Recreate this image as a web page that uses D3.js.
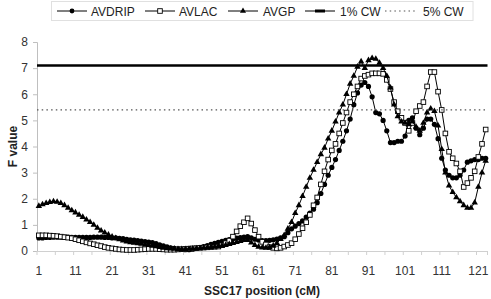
<!DOCTYPE html>
<html>
<head>
<meta charset="utf-8">
<script src="https://cdn.jsdelivr.net/npm/d3@7"></script>
<style>
  body { margin: 0; background: #fff; }
  svg { display: block; font-family: "Liberation Sans", Arial, sans-serif; }
</style>
</head>
<body>
<svg width="491" height="299"></svg>
<script>
// позиции на SSC17 (cM)
const positions = [
  1,2,3,4,5,6,7,8,9,10,11,12,13,14,15,16,17,18,19,20,
  21,22,23,24,25,26,27,28,29,30,31,32,33,34,35,36,37,38,39,40,
  41,42,43,44,45,46,47,48,49,50,51,52,53,54,55,56,57,58,59,60,
  61,62,63,64,65,66,67,68,69,70,71,72,73,74,75,76,77,78,79,80,
  81,82,83,84,85,86,87,88,89,90,91,92,93,94,95,96,97,98,99,100,
  101,102,103,104,105,106,107,108,109,110,111,112,113,114,115,116,117,118,119,120,
  121,122,123
];

const avdrip = [
  0.50,0.50,0.52,0.52,0.53,0.53,0.53,0.53,0.53,0.52,
  0.52,0.52,0.52,0.52,0.52,0.53,0.53,0.53,0.52,0.52,
  0.50,0.50,0.48,0.47,0.45,0.43,0.42,0.40,0.38,0.36,
  0.34,0.32,0.28,0.24,0.20,0.16,0.12,0.10,0.08,0.06,
  0.05,0.05,0.07,0.10,0.13,0.17,0.21,0.25,0.29,0.33,
  0.37,0.41,0.44,0.47,0.49,0.51,0.53,0.55,0.50,0.45,
  0.42,0.40,0.40,0.41,0.43,0.46,0.50,0.55,0.70,0.85,
  0.95,1.05,1.15,1.30,1.45,1.60,1.85,2.20,2.55,2.90,
  3.20,3.50,3.85,4.20,4.60,5.05,5.60,6.05,6.35,6.45,
  6.30,5.90,5.30,5.25,5.00,4.60,4.15,4.15,4.20,4.20,
  4.40,5.00,5.10,4.70,4.45,4.70,5.05,5.05,4.85,4.30,
  3.55,3.10,2.90,2.80,2.80,2.90,3.10,3.40,3.45,3.50,
  3.50,3.55,3.55
];

const avlac = [
  0.60,0.60,0.60,0.59,0.58,0.57,0.55,0.53,0.51,0.49,
  0.45,0.41,0.37,0.33,0.29,0.26,0.22,0.19,0.15,0.12,
  0.10,0.08,0.06,0.05,0.04,0.04,0.04,0.05,0.06,0.07,
  0.08,0.08,0.08,0.07,0.06,0.05,0.05,0.05,0.06,0.07,
  0.08,0.09,0.10,0.11,0.12,0.13,0.14,0.15,0.16,0.17,
  0.22,0.30,0.40,0.55,0.75,0.95,1.10,1.25,1.05,0.80,
  0.55,0.35,0.25,0.15,0.12,0.10,0.12,0.17,0.23,0.30,
  0.45,0.65,0.87,1.10,1.38,1.75,2.05,2.55,3.05,3.50,
  3.85,4.10,4.50,4.90,5.30,5.70,6.00,6.30,6.60,6.70,
  6.75,6.80,6.80,6.80,6.78,6.55,6.20,5.70,5.35,5.10,
  4.90,4.60,4.90,5.35,5.55,5.70,6.30,6.85,6.85,6.10,
  5.40,4.50,3.80,3.55,3.35,3.05,2.45,2.60,2.80,3.05,
  3.60,4.10,4.65
];

const avgp = [
  1.72,1.78,1.83,1.87,1.90,1.88,1.83,1.75,1.65,1.55,
  1.47,1.38,1.30,1.20,1.10,1.00,0.88,0.78,0.70,0.62,
  0.55,0.49,0.44,0.40,0.36,0.33,0.31,0.29,0.27,0.24,
  0.22,0.20,0.18,0.15,0.12,0.10,0.09,0.08,0.07,0.07,
  0.07,0.08,0.09,0.10,0.11,0.12,0.13,0.15,0.16,0.18,
  0.20,0.22,0.26,0.30,0.34,0.38,0.42,0.42,0.32,0.22,
  0.16,0.13,0.12,0.14,0.20,0.30,0.45,0.60,0.85,1.10,
  1.45,1.75,2.10,2.45,2.80,3.10,3.40,3.70,3.95,4.30,
  4.60,4.95,5.30,5.60,6.00,6.40,6.70,7.05,7.25,7.00,
  7.30,7.38,7.35,7.20,7.00,6.70,6.25,5.60,5.15,4.95,
  4.90,4.85,4.95,4.75,4.60,4.90,5.30,5.45,5.35,4.80,
  3.90,3.00,2.50,2.25,2.05,1.90,1.75,1.65,1.65,1.85,
  2.45,3.00,3.45
];

// пороги (chromosome-wide)
const cw1 = 7.1;
const cw5 = 5.4;

const xTickLabels = [1, 11, 21, 31, 41, 51, 61, 71, 81, 91, 101, 111, 121];
const yTicks = [0, 1, 2, 3, 4, 5, 6, 7, 8];

const svg = d3.select("svg");
const area = { left: 37, right: 487.5, top: 42, bottom: 251 };

const scX = d3.scaleBand().domain(positions).range([area.left, area.right]).padding(0);
const scY = d3.scaleLinear().domain([0, 8]).range([area.bottom, area.top]);
const cx = d => scX(d) + scX.bandwidth() / 2;

svg.append("rect").attr("width", 491).attr("height", 299).attr("fill", "#fff");

// ось Y
const gY = svg.append("g")
  .attr("transform", `translate(${area.left},0)`)
  .call(d3.axisLeft(scY).tickValues(yTicks).tickSize(4).tickPadding(5));
gY.select(".domain").attr("stroke", "#bfbfbf");
gY.selectAll(".tick line").attr("stroke", "#bfbfbf");
gY.selectAll(".tick text").attr("font-size", 12).attr("fill", "#333")
  .attr("font-family", "Liberation Sans, Arial, sans-serif");

// ось X
const gX = svg.append("g")
  .attr("transform", `translate(0,${area.bottom})`)
  .call(d3.axisBottom(scX).tickValues(xTickLabels).tickSize(0).tickPadding(15));
gX.select(".domain").attr("stroke", "#d0d0d0");
gX.selectAll(".tick text").attr("font-size", 12).attr("fill", "#333")
  .attr("font-family", "Liberation Sans, Arial, sans-serif");

// деления по границам категорий, каждые 5
const tickMarks = positions.filter(p => (p - 1) % 5 === 0);
svg.append("g").selectAll("line")
  .data(tickMarks)
  .enter().append("line")
  .attr("x1", d => scX(d)).attr("x2", d => scX(d))
  .attr("y1", area.bottom).attr("y2", area.bottom + 4)
  .attr("stroke", "#d0d0d0");
svg.append("line")
  .attr("x1", area.right).attr("x2", area.right)
  .attr("y1", area.bottom).attr("y2", area.bottom + 4)
  .attr("stroke", "#d0d0d0");

// подписи осей
svg.append("text")
  .attr("x", 262).attr("y", 295)
  .attr("text-anchor", "middle")
  .attr("font-size", 12).attr("font-weight", "bold").attr("fill", "#222")
  .text("SSC17 position (cM)");
svg.append("text")
  .attr("transform", `translate(17,${(area.top + area.bottom) / 2}) rotate(-90)`)
  .attr("text-anchor", "middle")
  .attr("font-size", 12).attr("font-weight", "bold").attr("fill", "#222")
  .text("F value");

// серии
const line = d3.line().x(d => cx(d.pos)).y(d => scY(d.v));
const toPts = vals => positions.map((p, i) => ({ pos: p, v: vals[i] }));

function drawSeries(vals, marker) {
  const pts = toPts(vals);
  svg.append("path").datum(pts)
    .attr("d", line).attr("fill", "none").attr("stroke", "#000").attr("stroke-width", 1);
  const g = svg.append("g");
  if (marker === "circle") {
    g.selectAll("circle").data(pts).enter().append("circle")
      .attr("cx", d => cx(d.pos)).attr("cy", d => scY(d.v))
      .attr("r", 2.6).attr("fill", "#000");
  } else if (marker === "square") {
    g.selectAll("rect").data(pts).enter().append("rect")
      .attr("x", d => cx(d.pos) - 2.3).attr("y", d => scY(d.v) - 2.3)
      .attr("width", 4.6).attr("height", 4.6)
      .attr("fill", "#fff").attr("stroke", "#000").attr("stroke-width", 0.9);
  } else {
    g.selectAll("path").data(pts).enter().append("path")
      .attr("d", d3.symbol(d3.symbolTriangle, 18))
      .attr("transform", d => `translate(${cx(d.pos)},${scY(d.v)})`)
      .attr("fill", "#000");
  }
}

drawSeries(avdrip, "circle");
drawSeries(avlac, "square");
drawSeries(avgp, "triangle");

// пороговые линии
svg.append("line")
  .attr("x1", area.left).attr("x2", area.right)
  .attr("y1", scY(cw1)).attr("y2", scY(cw1))
  .attr("stroke", "#000").attr("stroke-width", 2.5);
svg.append("line")
  .attr("x1", area.left).attr("x2", area.right)
  .attr("y1", scY(cw5)).attr("y2", scY(cw5))
  .attr("stroke", "#555").attr("stroke-width", 1.3).attr("stroke-dasharray", "1.5,3.2");

// легенда
const legend = svg.append("g");
legend.append("rect")
  .attr("x", 51.5).attr("y", 1.5).attr("width", 421.5).attr("height", 19)
  .attr("fill", "#fff").attr("stroke", "#e0e0e0");

const legendItems = [
  { name: "AVDRIP", type: "circle", x: 57, tx: 91 },
  { name: "AVLAC", type: "square", x: 145, tx: 179 },
  { name: "AVGP", type: "triangle", x: 228, tx: 263 },
  { name: "1% CW", type: "thick", x: 305, tx: 340 },
  { name: "5% CW", type: "dotted", x: 385, tx: 423 }
];
const ly = 11;
legendItems.forEach(it => {
  if (it.type === "thick") {
    legend.append("line").attr("x1", it.x).attr("x2", it.x + 30)
      .attr("y1", ly).attr("y2", ly).attr("stroke", "#000").attr("stroke-width", 1);
    legend.append("line").attr("x1", it.x + 10).attr("x2", it.x + 20)
      .attr("y1", ly).attr("y2", ly).attr("stroke", "#000").attr("stroke-width", 3);
  } else if (it.type === "dotted") {
    legend.append("line").attr("x1", it.x).attr("x2", it.x + 30)
      .attr("y1", ly).attr("y2", ly).attr("stroke", "#555")
      .attr("stroke-width", 1.2).attr("stroke-dasharray", "1.5,3.2");
  } else {
    legend.append("line").attr("x1", it.x).attr("x2", it.x + 30)
      .attr("y1", ly).attr("y2", ly).attr("stroke", "#000").attr("stroke-width", 1);
    const mx = it.x + 15;
    if (it.type === "circle") {
      legend.append("circle").attr("cx", mx).attr("cy", ly).attr("r", 2.4).attr("fill", "#000");
    } else if (it.type === "square") {
      legend.append("rect").attr("x", mx - 2.3).attr("y", ly - 2.3)
        .attr("width", 4.6).attr("height", 4.6)
        .attr("fill", "#fff").attr("stroke", "#000").attr("stroke-width", 0.9);
    } else {
      legend.append("path").attr("d", d3.symbol(d3.symbolTriangle, 16))
        .attr("transform", `translate(${mx},${ly})`).attr("fill", "#000");
    }
  }
  legend.append("text").attr("x", it.tx).attr("y", ly + 4.5)
    .attr("font-size", 12).attr("fill", "#222").text(it.name);
});
</script>
</body>
</html>
